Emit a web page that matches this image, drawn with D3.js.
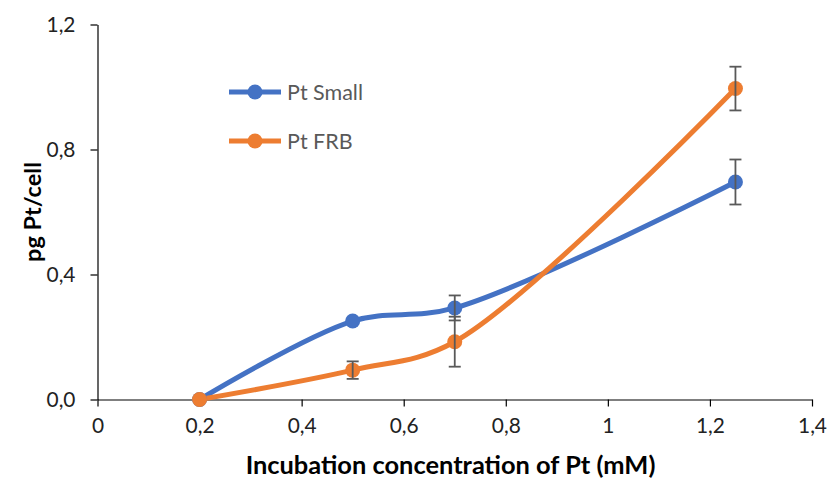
<!DOCTYPE html>
<html><head><meta charset="utf-8">
<script src="https://cdn.jsdelivr.net/npm/d3@7"></script>
<style>body{margin:0;background:#fff;} svg{display:block;}</style>
</head><body>
<svg id="c" width="828" height="480"></svg>
<script>
const xValues = [0.2, 0.5, 0.7, 1.25];
const smallValues = [0, 0.251, 0.293, 0.696];
const smallErrors = [0, 0, 0.04, 0.072];
const frbValues = [0, 0.094, 0.185, 0.995];
const frbErrors = [0, 0.028, 0.08, 0.07];
const seriesNames = ["Pt Small", "Pt FRB"];
const xTicks = [0, 0.2, 0.4, 0.6, 0.8, 1, 1.2, 1.4];
const yTicks = [0, 0.4, 0.8, 1.2];
const xTitle = "Incubation concentration of Pt (mM)";
const yTitle = "pg Pt/cell";

const colors = ["#4472C4", "#ED7D31"];
const font = "Lato, sans-serif";
const svg = d3.select("#c");
const x = d3.scaleLinear().domain([0, 1.4]).range([97.5, 812]);
const y = d3.scaleLinear().domain([0, 1.2]).range([399.5, 24.5]);
const fmtX = d => String(d).replace(".", ",");
const fmtY = d => d.toFixed(1).replace(".", ",");

// measure helper to pick a font size that gives a target text width
function fitSize(str, target, weight) {
  const t = svg.append("text").attr("font-family", font).attr("font-size", 20)
    .attr("font-weight", weight).text(str);
  const w = t.node().getComputedTextLength();
  t.remove();
  return 20 * target / w;
}
const tickSize = fitSize("0,4", 29, "normal");
const legendSize = fitSize("Pt Small", 76, "normal");
const xTitleSize = fitSize(xTitle, 410, "bold");
const yTitleSize = fitSize(yTitle, 100, "bold");

const xAxis = svg.append("g").attr("transform", `translate(0,${y(0)})`)
  .call(d3.axisBottom(x).tickValues(xTicks).tickFormat(fmtX).tickSize(7).tickSizeOuter(0).tickPadding(12));
const yAxis = svg.append("g").attr("transform", `translate(${x(0)},0)`)
  .call(d3.axisLeft(y).tickValues(yTicks).tickFormat(fmtY).tickSize(7).tickSizeOuter(0).tickPadding(15));
[xAxis, yAxis].forEach(g => {
  g.select(".domain").attr("stroke", "#000").attr("stroke-width", 1.2);
  g.selectAll(".tick line").attr("stroke", "#000").attr("stroke-width", 1.2);
  g.selectAll("text").attr("font-family", font).attr("font-size", tickSize).attr("fill", "#222");
});

const series = [
  {name: seriesNames[0], vals: smallValues, errs: smallErrors, color: colors[0]},
  {name: seriesNames[1], vals: frbValues, errs: frbErrors, color: colors[1]}
];
const line = d3.line().x(d => x(d[0])).y(d => y(d[1])).curve(d3.curveCatmullRom.alpha(0.5));

series.forEach(s => {
  const pts = xValues.map((xv, i) => [xv, s.vals[i], s.errs[i]]);
  svg.append("path").datum(pts).attr("d", line).attr("fill", "none")
    .attr("stroke", s.color).attr("stroke-width", 5).attr("stroke-linecap", "round");
});
series.forEach(s => {
  const pts = xValues.map((xv, i) => [xv, s.vals[i], s.errs[i]]);
  const g = svg.append("g");
  g.selectAll("circle").data(pts).join("circle")
    .attr("cx", d => x(d[0])).attr("cy", d => y(d[1])).attr("r", 7.5).attr("fill", s.color);
});
series.forEach(s => {
  const pts = xValues.map((xv, i) => [xv, s.vals[i], s.errs[i]]).filter(d => d[2] > 0);
  const g = svg.append("g").attr("stroke", "#595959").attr("stroke-width", 1.8).attr("fill", "none");
  pts.forEach(d => {
    const cx = x(d[0]), y1 = y(d[1] + d[2]), y2 = y(d[1] - d[2]);
    g.append("line").attr("x1", cx).attr("x2", cx).attr("y1", y1).attr("y2", y2);
    g.append("line").attr("x1", cx - 6).attr("x2", cx + 6).attr("y1", y1).attr("y2", y1);
    g.append("line").attr("x1", cx - 6).attr("x2", cx + 6).attr("y1", y2).attr("y2", y2);
  });
});

// legend
series.forEach((s, i) => {
  const ly = 92 + i * 49;
  const g = svg.append("g");
  g.append("line").attr("x1", 229).attr("x2", 281).attr("y1", ly).attr("y2", ly)
    .attr("stroke", s.color).attr("stroke-width", 5);
  g.append("circle").attr("cx", 255).attr("cy", ly).attr("r", 7.5).attr("fill", s.color);
  g.append("text").attr("x", 287).attr("y", ly).attr("dy", "0.35em")
    .attr("font-family", font).attr("font-size", legendSize).attr("fill", "#595959").text(s.name);
});

svg.append("text").attr("x", 450.5).attr("y", 474).attr("text-anchor", "middle")
  .attr("font-family", font).attr("font-size", xTitleSize).attr("font-weight", "bold").attr("fill", "#000").text(xTitle);
svg.append("text").attr("transform", `translate(41,212) rotate(-90)`).attr("text-anchor", "middle")
  .attr("font-family", font).attr("font-size", yTitleSize).attr("font-weight", "bold").attr("fill", "#000").text(yTitle);
</script>
</body></html>
